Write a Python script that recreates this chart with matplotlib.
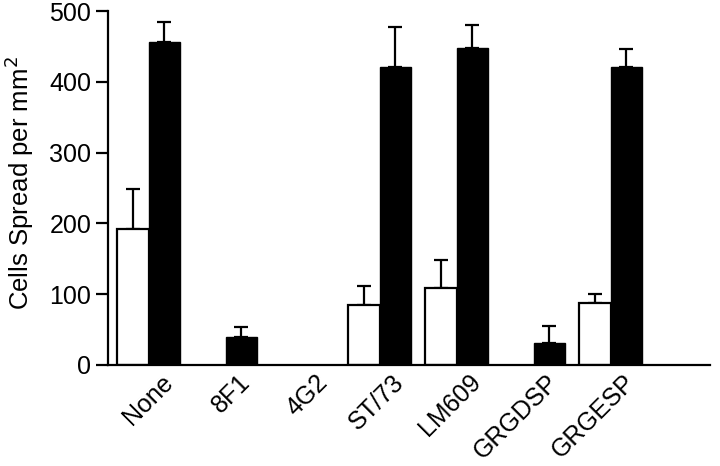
#!/usr/bin/env python
"""Bar chart of cell spreading per mm^2 for each antibody / peptide.
"""

import numpy as np
import matplotlib.pyplot as plt

plt.rcParams['font.family'] = ['Liberation Sans', 'DejaVu Sans']

categories = ['None', '8F1', '4G2', 'ST/73', 'LM609', 'GRGDSP', 'GRGESP']
# open bars and filled bars, with upper error (SEM)
white_vals = [192, 0, 0, 85, 109, 0, 88]
white_err = [57, 0, 0, 27, 39, 0, 12]
black_vals = [456, 40, 0, 421, 448, 31, 421]
black_err = [29, 14, 0, 56, 32, 24, 25]
white_show = [True, False, False, True, True, False, True]
black_show = [True, True, False, True, True, True, True]

x = np.arange(len(categories))
width = 0.41

fig = plt.figure(figsize=(7.2, 4.66), dpi=100)
ax = fig.add_axes([0.15, 0.217, 0.836, 0.759])

for i in range(len(categories)):
    if white_show[i]:
        ax.bar(x[i] - width / 2, white_vals[i], width, color='white',
               edgecolor='black', linewidth=1.6, zorder=2)
        ax.errorbar(x[i] - width / 2, white_vals[i],
                    yerr=[[0], [white_err[i]]], fmt='none', ecolor='black',
                    elinewidth=1.6, capsize=5, capthick=1.6, zorder=1)
    if black_show[i]:
        ax.bar(x[i] + width / 2, black_vals[i], width, color='black',
               edgecolor='black', linewidth=1.0, zorder=2)
        ax.errorbar(x[i] + width / 2, black_vals[i],
                    yerr=[[0], [black_err[i]]], fmt='none', ecolor='black',
                    elinewidth=1.6, capsize=5, capthick=1.6, zorder=1)

ax.set_xlim(-0.526, 7.29)
ax.set_ylim(0, 500)
ax.set_yticks([0, 100, 200, 300, 400, 500])
ax.set_xticks(x)
ax.set_xticklabels([])
ax.tick_params(axis='x', length=0)
# rotated category labels, placed by hand so they sit a bit right of centre
for i, name in enumerate(categories):
    ax.text(x[i] + 0.16, -0.014, name, transform=ax.get_xaxis_transform(),
            rotation=45, ha='right', va='top', rotation_mode='anchor',
            fontsize=18)
ax.tick_params(axis='y', length=9, width=1.6, labelsize=18, pad=3,
               direction='out')
ax.set_ylabel('Cells Spread per mm$^2$', fontsize=18.5)
ax.yaxis.set_label_coords(-0.12, 0.515)

ax.spines['top'].set_visible(False)
ax.spines['right'].set_visible(False)
ax.spines['left'].set_linewidth(1.6)
ax.spines['bottom'].set_linewidth(1.6)

fig.savefig('out.png', dpi=100)
